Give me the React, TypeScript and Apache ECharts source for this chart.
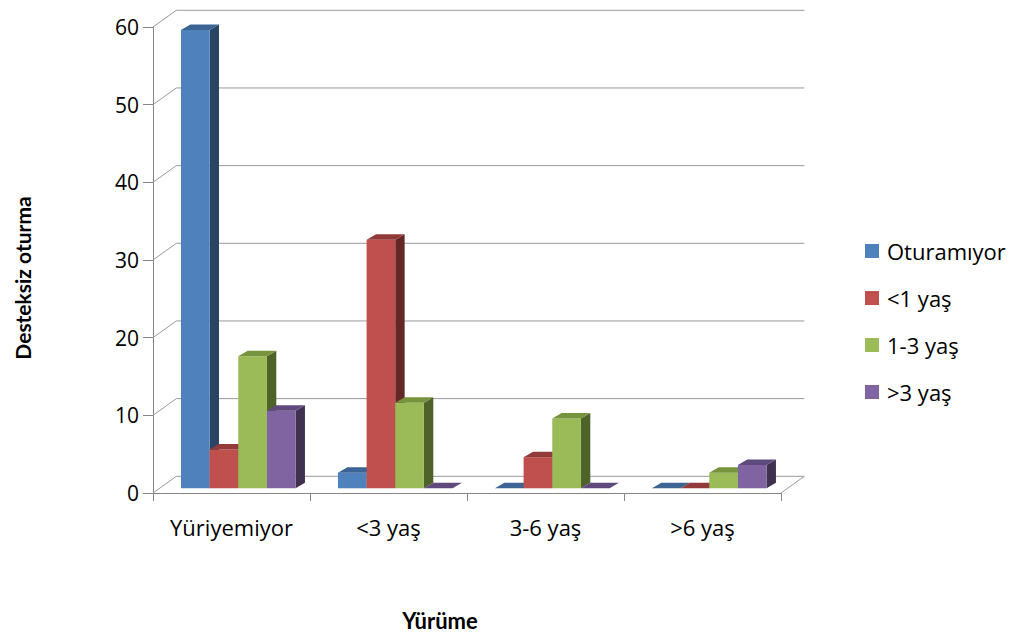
import React, { useEffect, useRef } from 'react';
import * as echarts from 'echarts';

// Category (walking age) labels and sitting-age groups
const categories = ['Yüriyemiyor', '<3 yaş', '3-6 yaş', '>6 yaş'];
const seriesNames = ['Oturamıyor', '<1 yaş', '1-3 yaş', '>3 yaş'];

// Counts per sitting-age group, one value per walking category
const oturamiyor = [59, 2, 0, 0];
const birYasAlti = [5, 32, 4, 0];
const birUcYas = [17, 11, 9, 2];
const ucYasUstu = [10, 0, 0, 3];

const yTicks = [0, 10, 20, 30, 40, 50, 60];

const seriesValues = [oturamiyor, birYasAlti, birUcYas, ucYasUstu];

// Front / top / side shades for the pseudo-3D columns
const palette = [
  { front: '#4F81BD', top: '#3B6394', side: '#2B4463' },
  { front: '#C0504D', top: '#923A39', side: '#632826' },
  { front: '#9BBB59', top: '#77933C', side: '#4F622A' },
  { front: '#8064A2', top: '#5F4A7D', side: '#403151' },
];

// Oblique projection offsets (pixels)
const WALL_DX = 23.3;
const WALL_DY = -16.7;
const FACE_DX = 6.75;
const FACE_DY = -4.7;
const BAR_DX = 9.4;
const BAR_DY = -5.5;
const BAR_RATIO = 0.1825;

const GRID_COLOR = '#9a9a9a';
const AXIS_COLOR = '#868686';

const makeBarRender = (s: number) => (params: any, api: any) => {
  const i = api.value(0);
  const v = api.value(1);
  const base = api.coord([i, 0]);
  const top = api.coord([i, v]);
  const bw = api.size([1, 0])[0];
  const w = bw * BAR_RATIO;
  const x0 = base[0] - 2 * w + s * w + FACE_DX;
  const x1 = x0 + w;
  const yb = base[1] + FACE_DY;
  const yt = top[1] + FACE_DY;
  const c = palette[s];
  return {
    type: 'group',
    children: [
      {
        type: 'polygon',
        shape: { points: [[x1, yt], [x1 + BAR_DX, yt + BAR_DY], [x1 + BAR_DX, yb + BAR_DY], [x1, yb]] },
        style: { fill: c.side },
      },
      {
        type: 'rect',
        shape: { x: x0, y: yt, width: w, height: yb - yt },
        style: { fill: c.front },
      },
      {
        type: 'polygon',
        shape: { points: [[x0, yt], [x1, yt], [x1 + BAR_DX, yt + BAR_DY], [x0 + BAR_DX, yt + BAR_DY]] },
        style: { fill: c.top },
      },
    ],
  };
};

// Side wall diagonals, back wall gridlines and the floor's right edge
const wallRender = (params: any, api: any) => {
  const v = api.value(1);
  const bw = api.size([1, 0])[0];
  const p = api.coord([0, v]);
  const left = p[0] - bw / 2;
  const right = api.coord([categories.length - 1, v])[0] + bw / 2;
  const y = p[1];
  const style = { stroke: GRID_COLOR, fill: null, lineWidth: 1 };
  const children: any[] = [
    {
      type: 'polyline',
      shape: { points: [[left, y], [left + WALL_DX, y + WALL_DY], [right + WALL_DX, y + WALL_DY]] },
      style,
    },
  ];
  if (v === 0) {
    children.push({
      type: 'line',
      shape: { x1: right + WALL_DX, y1: y + WALL_DY, x2: right, y2: y },
      style,
    });
  }
  return { type: 'group', children };
};

export default function App() {
  const ref = useRef<HTMLDivElement>(null);

  useEffect(() => {
    if (!ref.current) return;
    const chart = echarts.init(ref.current, null, { renderer: 'svg' });
    const labelFont = { fontFamily: 'Open Sans', color: '#000' };

    chart.setOption({
      animation: false,
      backgroundColor: '#fff',
      grid: { left: 153, top: 27, right: 238, bottom: 144, containLabel: false },
      legend: {
        orient: 'vertical',
        left: 865,
        top: 240,
        padding: 0,
        itemWidth: 14,
        itemHeight: 14,
        itemGap: 25,
        icon: 'rect',
        data: seriesNames,
        textStyle: { ...labelFont, fontSize: 22, lineHeight: 22, padding: [0, 0, 0, 3] },
      },
      xAxis: {
        type: 'category',
        data: categories,
        axisLine: { show: true, lineStyle: { color: AXIS_COLOR } },
        axisTick: { show: true, interval: 0, length: 8, lineStyle: { color: AXIS_COLOR } },
        axisLabel: { ...labelFont, fontSize: 22, margin: 23, interval: 0 },
        splitLine: { show: false },
      },
      yAxis: {
        type: 'value',
        min: 0,
        max: 60,
        interval: 10,
        axisLine: { show: true, lineStyle: { color: AXIS_COLOR } },
        axisTick: { show: true, length: 10, lineStyle: { color: AXIS_COLOR } },
        axisLabel: { ...labelFont, fontSize: 21, margin: 14, padding: [10, 0, 0, 0] },
        splitLine: { show: false },
      },
      graphic: [
        {
          type: 'text',
          x: 22,
          y: 278,
          rotation: Math.PI / 2,
          style: {
            text: 'Desteksiz oturma',
            fontFamily: 'Lato',
            fontWeight: 'bold',
            fontSize: 21,
            fill: '#000',
            textAlign: 'center',
            textVerticalAlign: 'middle',
          },
        },
        {
          type: 'text',
          x: 440,
          y: 620,
          style: {
            text: 'Yürüme',
            fontFamily: 'Lato',
            fontWeight: 'bold',
            fontSize: 22,
            fill: '#000',
            textAlign: 'center',
            textVerticalAlign: 'middle',
          },
        },
      ],
      series: [
        {
          type: 'custom',
          name: 'wall',
          silent: true,
          z: 1,
          clip: false,
          renderItem: wallRender,
          encode: { x: 0, y: 1 },
          data: yTicks.map((v) => [0, v]),
        },
        ...seriesNames.map((name, s) => ({
          type: 'custom',
          name,
          z: 2,
          clip: false,
          itemStyle: { color: palette[s].front },
          renderItem: makeBarRender(s),
          encode: { x: 0, y: 1 },
          data: seriesValues[s].map((v, i) => [i, v]),
        })),
      ],
    });

    return () => chart.dispose();
  }, []);

  return (
    <div
      ref={ref}
      style={{ position: 'absolute', left: 0, top: 0, width: 1019, height: 637 }}
    />
  );
}
